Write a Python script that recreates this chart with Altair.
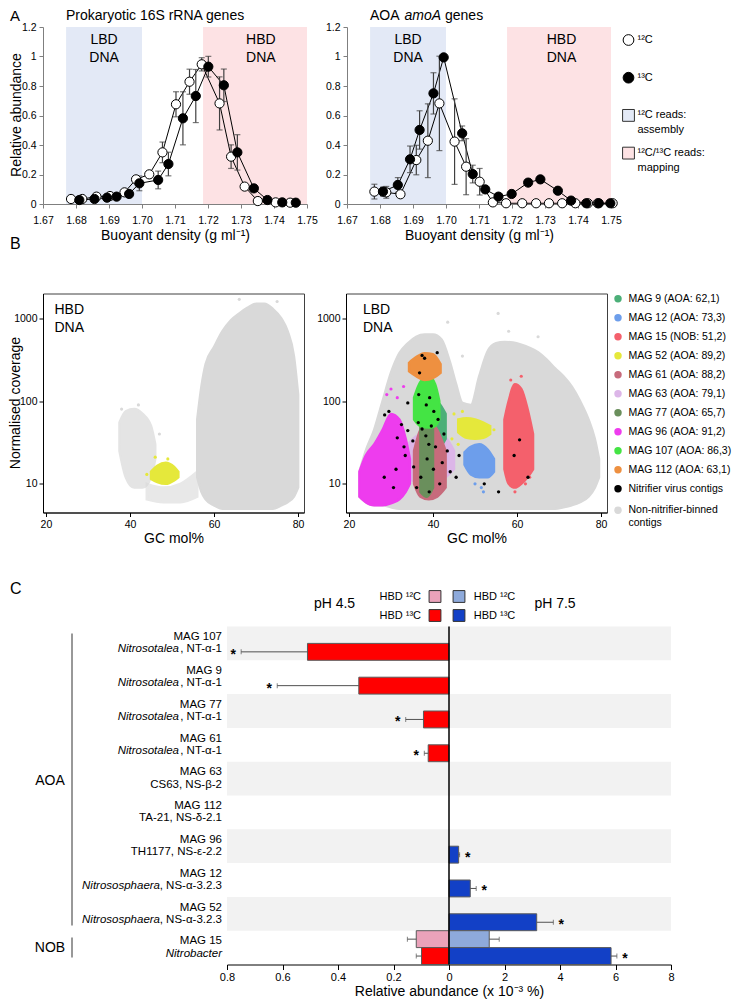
import altair as alt
import pandas as pd

FONT = "Liberation Sans"

# ======================= PANEL A data =======================
a_xticks = [1.67, 1.68, 1.69, 1.70, 1.71, 1.72, 1.73, 1.74, 1.75]
a_yticks = [0, 0.2, 0.4, 0.6, 0.8, 1.0, 1.2]

rrna_x12 = [1.6785, 1.6819, 1.6862, 1.6903, 1.6947, 1.6982, 1.7022, 1.7062, 1.7103, 1.7144, 1.7181, 1.7235, 1.7270, 1.7311, 1.7351, 1.7405, 1.7449]
rrna_y12 = [0.034, 0.034, 0.050, 0.054, 0.079, 0.167, 0.201, 0.350, 0.676, 0.829, 0.947, 0.682, 0.321, 0.118, 0.020, 0.011, 0.009]
rrna_e12 = [0, 0, 0, 0, 0, 0.02, 0, 0.07, 0.085, 0.085, 0.045, 0.18, 0.08, 0, 0, 0, 0]
rrna_x13 = [1.6810, 1.6856, 1.6894, 1.6923, 1.6961, 1.6992, 1.7049, 1.7080, 1.7124, 1.7163, 1.7201, 1.7248, 1.7289, 1.7339, 1.7380, 1.7425, 1.7466]
rrna_y13 = [0.027, 0.034, 0.043, 0.050, 0.068, 0.140, 0.163, 0.271, 0.581, 0.732, 0.931, 0.805, 0.350, 0.106, 0.027, 0.011, 0.009]
rrna_e13 = [0, 0, 0, 0, 0, 0.05, 0.06, 0.08, 0.18, 0.18, 0.07, 0.11, 0.12, 0, 0, 0, 0]

amo_x12 = [1.6783, 1.6819, 1.6862, 1.6910, 1.6945, 1.6980, 1.7026, 1.7061, 1.7102, 1.7142, 1.7182, 1.7231, 1.7273, 1.7312, 1.7352, 1.7392, 1.7430, 1.7460, 1.7505]
amo_y12 = [0.084, 0.079, 0.066, 0.298, 0.429, 0.682, 0.423, 0.253, 0.151, 0.011, 0.005, 0.005, 0.005, 0.005, 0.005, 0.005, 0.005, 0.005, 0.005]
amo_e12 = [0.05, 0.04, 0, 0.10, 0.25, 0.32, 0.29, 0.19, 0.09, 0, 0, 0, 0, 0, 0, 0, 0, 0, 0]
amo_x13 = [1.6809, 1.6854, 1.6891, 1.6920, 1.6962, 1.6993, 1.7049, 1.7081, 1.7119, 1.7159, 1.7199, 1.7249, 1.7286, 1.7339, 1.7379, 1.7425, 1.7463, 1.7498]
amo_y13 = [0.084, 0.129, 0.303, 0.502, 0.750, 0.994, 0.479, 0.203, 0.099, 0.050, 0.068, 0.145, 0.167, 0.090, 0.023, 0.005, 0.005, 0.005]
amo_e13 = [0.03, 0.05, 0.09, 0.13, 0.14, 0, 0.05, 0.06, 0, 0, 0, 0, 0, 0, 0, 0, 0, 0]

lbd_range = [1.677, 1.700]
hbd_range = [1.7185, 1.750]
shade_colors = ["#e3e9f6", "#fde2e4"]

# ======================= PANEL B data =======================
b_xticks = [20, 40, 60, 80]
b_yticks = [10, 100, 1000]
GRAY = "#d9d9d9"

hbd_gray_gc = [56, 57, 58, 60, 62, 64, 66, 68, 70, 72, 74, 76, 77.5, 79, 80]
hbd_gray_lo = [12, 8, 6.5, 5.5, 5, 5, 5, 5, 5, 5, 5, 5.5, 6, 7, 9]
hbd_gray_hi = [60, 150, 280, 450, 700, 950, 1150, 1350, 1500, 1500, 1300, 1000, 700, 350, 120]
hbd_small_gc = [37.5, 39, 41, 43, 45, 46]
hbd_small_lo = [25, 12, 9, 9, 12, 20]
hbd_small_hi = [55, 75, 80, 70, 50, 30]
hbd_low_gc = [44, 48, 52, 56]
hbd_low_lo = [6.5, 6, 6, 7]
hbd_low_hi = [10, 9, 10, 14]
hbd_y52_gc = [45, 46.5, 48.5, 50.5, 51.5]
hbd_y52_lo = [11.5, 10.5, 10, 11, 12]
hbd_y52_hi = [14, 16.5, 18, 16, 14]

lbd_gray_gc = [22.5, 24, 26, 28, 30, 32, 34, 36, 38, 40, 42, 44, 45.5, 47, 49, 51, 53, 55, 57, 59, 61, 63, 65, 67, 69, 71, 73, 75, 77, 78.5, 79.5]
lbd_gray_lo = [7, 6, 5.5, 5.5, 5.2, 5, 5, 5, 5, 5, 5, 5, 5, 5, 5, 5, 5, 5, 5, 5, 5, 5, 5, 5, 5, 5.2, 5.5, 6, 7, 9, 12]
lbd_gray_hi = [14, 25, 45, 100, 220, 380, 500, 600, 640, 640, 560, 300, 160, 95, 90, 200, 400, 500, 520, 510, 480, 440, 390, 320, 250, 200, 150, 100, 60, 35, 20]

mag63_gc = [34, 37, 40, 43, 45]
mag63_lo = [12, 10, 10, 12, 15]
mag63_hi = [30, 40, 42, 36, 25]
mag9_gc = [38, 40.5, 43]
mag9_lo = [30, 25, 35]
mag9_hi = [80, 100, 70]
mag77_gc = [37, 38.5, 40]
mag77_lo = [8, 7, 9]
mag77_hi = [60, 90, 50]
mag61_gc = [35.5, 37, 39, 41, 43]
mag61_lo = [10, 7, 6.5, 7, 9]
mag61_hi = [25, 45, 55, 45, 25]
mag96_gc = [22.5, 24, 26, 28, 30, 32, 33.5, 34.5]
mag96_lo = [7, 6, 5.5, 5.5, 5.8, 6.5, 8, 10]
mag96_hi = [14, 22, 30, 45, 70, 60, 35, 20]
mag107_gc = [35.5, 37, 39, 40.5, 41.5]
mag107_lo = [60, 50, 48, 50, 60]
mag107_hi = [110, 170, 200, 160, 100]
mag112_gc = [34.3, 36, 38, 40, 41.8]
mag112_lo = [230, 200, 180, 190, 220]
mag112_hi = [290, 340, 380, 370, 280]
mag52_gc = [46, 48, 50, 52, 53.6]
mag52_lo = [42, 36, 35, 36, 40]
mag52_hi = [60, 62, 60, 55, 50]
mag12_gc = [47.5, 49, 51, 53, 54.5]
mag12_lo = [17, 13, 12, 12, 14]
mag12_hi = [24, 28, 30, 26, 20]
mag15_gc = [57, 58, 59.5, 61, 62.5, 63.8]
mag15_lo = [15, 10, 9, 10, 12, 15]
mag15_hi = [60, 100, 160, 140, 80, 40]

lbd_stray_gc = [44.5, 45, 46, 47, 54.5, 51.5, 52, 50, 58.5, 61, 63, 62, 59.5, 30, 31.5, 33, 29, 43.5, 55.5, 47, 65, 58]
lbd_stray_cov = [35, 70, 30, 75, 45, 9, 8, 10, 180, 200, 12, 10, 8, 140, 110, 150, 120, 900, 1150, 350, 600, 700]
lbd_stray_col = ["#e5e83b"] * 5 + ["#6d9eeb"] * 3 + ["#f4606c"] * 5 + ["#ee3cee"] * 4 + [GRAY] * 5
hbd_stray_gc = [46, 44, 49, 42, 38, 47, 66, 75]
hbd_stray_cov = [21, 13, 20, 90, 80, 40, 1700, 1600]
hbd_stray_col = ["#e5e83b", "#e5e83b", "#e5e83b", GRAY, GRAY, GRAY, GRAY, GRAY]

virus_gc = [37.4, 38.0, 41.0, 36.8, 29.5, 28.5, 31.5, 32.5, 34, 35.2, 36.5, 37.4, 38.3, 39, 39.6, 40.6, 43.4, 45.5, 34, 38.4, 39.2, 40.2, 41.2, 36.6, 33.4, 35.4, 37.1, 38.6, 40.1, 41.6, 42.2, 31.2, 28.4, 30.6, 36.1, 39.1, 44.1, 46.2, 60.6, 59.3, 62.6, 55.6, 52.2, 33.1, 42.6]
virus_cov = [357, 330, 385, 220, 75, 68, 36, 52, 44, 33, 55, 46, 38, 30, 50, 28, 25, 12, 95, 90, 110, 75, 60, 120, 22, 16, 12, 20, 15, 10, 18, 15, 12, 9, 9, 8, 14, 22, 34, 22, 12, 8, 10, 28, 40]

b_leg_labels = ["MAG 9 (AOA: 62,1)", "MAG 12 (AOA: 73,3)", "MAG 15 (NOB: 51,2)", "MAG 52 (AOA: 89,2)",
                "MAG 61 (AOA: 88,2)", "MAG 63 (AOA: 79,1)", "MAG 77 (AOA: 65,7)", "MAG 96 (AOA: 91,2)",
                "MAG 107 (AOA: 86,3)", "MAG 112 (AOA: 63,1)", "Nitrifier virus contigs", "Non-nitrifier-binned"]
b_leg_colors = ["#4caf78", "#6d9eeb", "#f4606c", "#e5e83b", "#c76b7c", "#dcb6e8", "#6a8f5c", "#ee3cee",
                "#44e444", "#ee9040", "#000000", GRAY]

# ======================= PANEL C data =======================
c_mags = ["MAG 107", "MAG 9", "MAG 77", "MAG 61", "MAG 63", "MAG 112", "MAG 96", "MAG 12", "MAG 52", "MAG 15"]
c_ital = ["Nitrosotalea"] * 4 + ["", "", ""] + ["Nitrososphaera"] * 2 + ["Nitrobacter"]
c_norm = [", NT-α-1"] * 4 + ["CS63, NS-β-2", "TA-21, NS-δ-2.1", "TH1177, NS-ε-2.2", ", NS-α-3.2.3", ", NS-α-3.2.3", ""]
c_band = [1, 0, 1, 0, 1, 0, 1, 0, 1, 0]
c_ph45_12 = [0, 0, 0, 0, 0, 0, 0, 0, 0, 0.118]
c_ph45_12_err = [0, 0, 0, 0, 0, 0, 0, 0, 0, 0.032]
c_ph45_13 = [0.510, 0.325, 0.092, 0.075, 0, 0, 0, 0, 0, 0.099]
c_ph45_13_err = [0.239, 0.294, 0.064, 0.014, 0, 0, 0, 0, 0, 0.019]
c_ph75_12 = [0, 0, 0, 0, 0, 0, 0, 0, 0, 1.45]
c_ph75_12_err = [0, 0, 0, 0, 0, 0, 0, 0, 0, 0.36]
c_ph75_13 = [0, 0, 0, 0, 0, 0, 0.347, 0.766, 3.16, 5.84]
c_ph75_13_err = [0, 0, 0, 0, 0, 0, 0.035, 0.214, 0.60, 0.21]
c_sig45 = [1, 1, 1, 1, 0, 0, 0, 0, 0, 0]
c_sig75 = [0, 0, 0, 0, 0, 0, 1, 1, 1, 1]
c_xticks = [-8, -6, -4, -2, 0, 2, 4, 6, 8]
c_colors = {"L12C": "#eaa2ba", "L13C": "#ff0000", "R12C": "#8eaadb", "R13C": "#1240c6"}


def note(txt, x, y, size, align="left", style="normal", weight="normal", baseline="middle", angle=0):
    return alt.Chart(pd.DataFrame({"t": [txt]})).mark_text(
        align=align, baseline=baseline, fontSize=size, fontStyle=style, fontWeight=weight, color="black",
        angle=angle
    ).encode(x=alt.value(x), y=alt.value(y), text="t:N")


def anchor(x, y):
    # invisible 1px layout anchor (keeps every row's left edge / top edge at a known place)
    return alt.Chart(pd.DataFrame({"a": [0]})).mark_rule(opacity=0, strokeWidth=0.5).encode(
        x=alt.value(x), x2=alt.value(x + 0.5), y=alt.value(y), y2=alt.value(y + 0.5))


# ======================= PANEL A =======================
def panel_a(x12, y12, e12, x13, y13, e13, lbd_c, hbd_c, width, extra):
    pts = pd.DataFrame({"x": x12 + x13, "y": y12 + y13, "e": e12 + e13,
                        "f": ["white"] * len(x12) + ["black"] * len(x13),
                        "series": ["12C"] * len(x12) + ["13C"] * len(x13)})
    pts["lo"] = (pts["y"] - pts["e"]).clip(lower=0)
    pts["hi"] = pts["y"] + pts["e"]
    errs = pts[pts["e"] > 0]
    caps = pd.concat([errs.assign(cy=errs["lo"]), errs.assign(cy=errs["hi"])])
    shade = pd.DataFrame({"x0": [lbd_range[0], hbd_range[0]], "x1": [lbd_range[1], hbd_range[1]],
                          "y0": [0, 0], "y1": [1.2, 1.2], "c": shade_colors})
    stext = pd.DataFrame({"xc": [lbd_c, lbd_c, hbd_c, hbd_c], "yc": [1.112, 0.99, 1.112, 0.99],
                          "t": ["LBD", "DNA", "HBD", "DNA"]})
    xsc = alt.Scale(domain=[1.67, 1.75], nice=False, zero=False)
    ysc = alt.Scale(domain=[0, 1.2], nice=False)
    xax = alt.Axis(values=a_xticks, format=".2f", title="Buoyant density (g ml⁻¹)", labelFontSize=10.5,
                   titleFontSize=14, tickSize=4, domainColor="#7f7f7f", tickColor="#7f7f7f",
                   labelPadding=7, titlePadding=3, labelFlush=False)
    yax = alt.Axis(values=a_yticks, format=".1~f", title=None, labelFontSize=10.5,
                   tickSize=4, domainColor="#7f7f7f", tickColor="#7f7f7f", labelPadding=3)
    X = alt.X("x:Q", scale=xsc, axis=xax)
    layers = [
        alt.Chart(shade).mark_rect().encode(
            x=alt.X("x0:Q", scale=xsc, axis=xax), x2="x1:Q",
            y=alt.Y("y1:Q", scale=ysc, axis=yax), y2="y0:Q",
            color=alt.Color("c:N", scale=None)),
        alt.Chart(stext).mark_text(fontSize=14, baseline="middle").encode(
            x=alt.X("xc:Q", scale=xsc, axis=xax), y=alt.Y("yc:Q", scale=ysc, axis=yax), text="t:N"),
        alt.Chart(pts).mark_line(color="black", strokeWidth=1).encode(
            x=X, y=alt.Y("y:Q", scale=ysc, axis=yax), detail="series:N"),
        alt.Chart(errs).mark_rule(color="#404040", strokeWidth=1.2).encode(
            x=X, y=alt.Y("lo:Q", scale=ysc, axis=yax), y2="hi:Q"),
        alt.Chart(caps).mark_tick(orient="horizontal", size=6, thickness=1.2, color="#404040").encode(
            x=X, y=alt.Y("cy:Q", scale=ysc, axis=yax)),
        alt.Chart(pts).mark_circle(size=85, stroke="black", strokeWidth=1, opacity=1).encode(
            x=X, y=alt.Y("y:Q", scale=ysc, axis=yax), fill=alt.Fill("f:N", scale=None)),
    ] + extra
    return alt.layer(*layers).properties(width=width, height=177)


a_left = panel_a(rrna_x12, rrna_y12, rrna_e12, rrna_x13, rrna_y13, rrna_e13, 1.6885, 1.736, 264,
                 [anchor(-33.3, -19),
                  note("Prokaryotic 16S rRNA genes", 23, -11.5, 14), note("A", -33, -11.5, 15),
                  note("Relative abundance", -26.3, 88, 14, align="center", angle=270),
                  note("B", -33, 217, 16)])
a_right = panel_a(amo_x12, amo_y12, amo_e12, amo_x13, amo_y13, amo_e13, 1.6885, 1.735, 264,
                  [note("AOA", 23, -11.5, 14), note("amoA", 57.5, -11.5, 14, style="italic"),
                   note("genes", 98, -11.5, 14)])

legA_g = pd.DataFrame({"i": [0, 1], "f": ["white", "black"]})
legA_s = pd.DataFrame({"i": [2, 3], "f": shade_colors})
legA_t = pd.DataFrame({"i": [0, 1, 2, 2.39, 3, 3.39],
                       "t": ["¹²C", "¹³C", "¹²C reads:", "assembly", "¹²C/¹³C reads:", "mapping"]})
lya = alt.Scale(domain=[-0.345, 4.35], reverse=True)
a_leg = alt.layer(
    alt.Chart(legA_g).mark_circle(size=115, stroke="black", strokeWidth=1, opacity=1).encode(
        x=alt.value(-22.5), y=alt.Y("i:Q", scale=lya, axis=None), fill=alt.Fill("f:N", scale=None)),
    alt.Chart(legA_s).mark_square(size=140, stroke="#333333", strokeWidth=1, opacity=1).encode(
        x=alt.value(-22.5), y=alt.Y("i:Q", scale=lya, axis=None), fill=alt.Fill("f:N", scale=None)),
    alt.Chart(legA_t).mark_text(align="left", baseline="middle", fontSize=11).encode(
        x=alt.value(-13.5), y=alt.Y("i:Q", scale=lya, axis=None), text="t:N"),
).properties(width=70, height=177)

rowA = alt.hconcat(a_left, a_right, a_leg, spacing=40, bounds="flush")


# ======================= PANEL B =======================
def panel_b(blobs, s_gc, s_cov, s_col, v_gc, v_cov, extra):
    xsc = alt.Scale(domain=[19.3, 81.4], nice=False, zero=False)
    ysc = alt.Scale(type="log", domain=[4.5, 2000], nice=False)
    xax = alt.Axis(values=b_xticks, title="GC mol%", labelFontSize=10.5, titleFontSize=14, tickSize=4,
                   labelFlush=False, labelPadding=3, titlePadding=1)
    yax = alt.Axis(values=b_yticks, format="d", title=None, labelFontSize=10.5, tickSize=4, labelPadding=2)
    layers = []
    for color, op, gc, lo, hi in blobs:
        df = pd.DataFrame({"gc": gc, "lo": lo, "hi": hi})
        layers.append(alt.Chart(df).mark_area(color=color, stroke=color, strokeWidth=2.5, opacity=op,
                                              interpolate="monotone").encode(
            x=alt.X("gc:Q", scale=xsc, axis=xax), y=alt.Y("lo:Q", scale=ysc, axis=yax, stack=None), y2="hi:Q"))
    sdf = pd.DataFrame({"gc": s_gc, "lo": s_cov, "c": s_col})
    layers.append(alt.Chart(sdf).mark_circle(size=10, opacity=1).encode(
        x=alt.X("gc:Q", scale=xsc, axis=xax), y=alt.Y("lo:Q", scale=ysc, axis=yax),
        color=alt.Color("c:N", scale=None)))
    if v_gc:
        vdf = pd.DataFrame({"gc": v_gc, "lo": v_cov})
        layers.append(alt.Chart(vdf).mark_circle(size=11, color="black", opacity=1).encode(
            x=alt.X("gc:Q", scale=xsc, axis=xax), y=alt.Y("lo:Q", scale=ysc, axis=yax)))
    layers += extra
    return alt.layer(*layers).properties(width=261, height=219,
                                         view=alt.ViewBackground(stroke="#404040", strokeWidth=1))


hbd_blobs = [
    (GRAY, 0.6, hbd_low_gc, hbd_low_lo, hbd_low_hi),
    (GRAY, 0.7, hbd_small_gc, hbd_small_lo, hbd_small_hi),
    (GRAY, 1.0, hbd_gray_gc, hbd_gray_lo, hbd_gray_hi),
    ("#e5e83b", 1.0, hbd_y52_gc, hbd_y52_lo, hbd_y52_hi),
]
lbd_blobs = [
    (GRAY, 1.0, lbd_gray_gc, lbd_gray_lo, lbd_gray_hi),
    ("#dcb6e8", 1.0, mag63_gc, mag63_lo, mag63_hi),
    ("#4caf78", 1.0, mag9_gc, mag9_lo, mag9_hi),
    ("#c76b7c", 1.0, mag61_gc, mag61_lo, mag61_hi),
    ("#6a8f5c", 1.0, mag77_gc, mag77_lo, mag77_hi),
    ("#ee3cee", 1.0, mag96_gc, mag96_lo, mag96_hi),
    ("#44e444", 1.0, mag107_gc, mag107_lo, mag107_hi),
    ("#ee9040", 1.0, mag112_gc, mag112_lo, mag112_hi),
    ("#e5e83b", 1.0, mag52_gc, mag52_lo, mag52_hi),
    ("#6d9eeb", 1.0, mag12_gc, mag12_lo, mag12_hi),
    ("#f4606c", 1.0, mag15_gc, mag15_lo, mag15_hi),
]

b_left = panel_b(hbd_blobs, hbd_stray_gc, hbd_stray_cov, hbd_stray_col, [], [],
                 [anchor(-34.5, 20),
                  note("HBD", 11.5, 16, 14), note("DNA", 11.5, 34, 14),
                  note("Normalised coverage", -27.5, 109.5, 14, align="center", angle=270)])
b_right = panel_b(lbd_blobs, lbd_stray_gc, lbd_stray_cov, lbd_stray_col, virus_gc, virus_cov,
                  [note("LBD", 17, 16, 14), note("DNA", 17, 34, 14)])

legB_d = pd.DataFrame({"i": [float(k) for k in range(12)], "t": b_leg_labels, "c": b_leg_colors})
legB_d.loc[11, "i"] = 11.13
legB_t = pd.concat([legB_d[["i", "t"]], pd.DataFrame({"i": [11.79], "t": ["contigs"]})])
lyb = alt.Scale(domain=[-0.279, 11.247], reverse=True)
b_leg = alt.layer(
    alt.Chart(legB_d).mark_circle(size=55, opacity=1).encode(
        x=alt.value(-31), y=alt.Y("i:Q", scale=lyb, axis=None), color=alt.Color("c:N", scale=None)),
    alt.Chart(legB_t).mark_text(align="left", baseline="middle", fontSize=10.5).encode(
        x=alt.value(-20.5), y=alt.Y("i:Q", scale=lyb, axis=None), text="t:N"),
).properties(width=40, height=219)

rowB = alt.hconcat(b_left, b_right, b_leg, spacing=42, bounds="flush")

# ======================= PANEL C =======================
recs = []
for i, m in enumerate(c_mags):
    for side, carbon, vals, errs, sig, sign, scl in [
        ("L", "12C", c_ph45_12, c_ph45_12_err, None, -1, 10),
        ("L", "13C", c_ph45_13, c_ph45_13_err, c_sig45, -1, 10),
        ("R", "12C", c_ph75_12, c_ph75_12_err, None, 1, 1),
        ("R", "13C", c_ph75_13, c_ph75_13_err, c_sig75, 1, 1),
    ]:
        v = vals[i]
        if v > 0:
            recs.append({"mag": m, "carbon": carbon, "col": c_colors[side + carbon], "side": side,
                         "s": sign * scl * v, "end": sign * scl * (v + errs[i]), "e": errs[i],
                         "z": 0, "star": (sig[i] if sig else 0)})
cdf = pd.DataFrame(recs)
edf = cdf[cdf["e"] > 0]
band_df = pd.DataFrame({"mag": [m for m, b in zip(c_mags, c_band) if b]})
lab_df = pd.DataFrame({"mag": c_mags, "ital": c_ital, "norm": c_norm})

cx = alt.Scale(domain=[-8, 8], nice=False, zero=False)
cy = alt.Scale(domain=c_mags, paddingInner=0, paddingOuter=0)
cyo = alt.Scale(domain=["12C", "13C"], paddingInner=0, paddingOuter=0)
cxax = alt.Axis(values=c_xticks,
                labelExpr="datum.value < 0 ? format(-datum.value/10, '.1f') : format(datum.value, 'd')",
                title="Relative abundance (x 10⁻³ %)", titleFontSize=14, labelFontSize=11, tickSize=5,
                labelFlush=False, labelPadding=2, titlePadding=2, domainColor="black", tickColor="black")
CX = alt.X("s:Q", scale=cx, axis=cxax)
CY = alt.Y("mag:N", scale=cy, axis=None)
CYO = alt.YOffset("carbon:N", scale=cyo)
W_C, H_C = 444, 338

c_layers = [
    anchor(-217, 20),
    alt.Chart(band_df).mark_rect(color="#f2f2f2").encode(y=CY, x=alt.value(0), x2=alt.value(W_C)),
    alt.Chart(cdf).mark_bar(stroke="#5a5a5a", strokeWidth=1).encode(
        x=CX, x2="z:Q", y=CY, yOffset=CYO, color=alt.Color("col:N", scale=None)),
    alt.Chart(edf).mark_rule(color="#505050", strokeWidth=1).encode(x=CX, x2="end:Q", y=CY, yOffset=CYO),
    alt.Chart(edf).mark_tick(color="#505050", thickness=1, size=5).encode(
        x=alt.X("end:Q", scale=cx, axis=cxax), y=CY, yOffset=CYO),
    alt.Chart(cdf[(cdf["star"] == 1) & (cdf["side"] == "L")]).mark_text(
        text="*", fontSize=14, fontWeight="bold", dx=-8, dy=3).encode(
        x=alt.X("end:Q", scale=cx, axis=cxax), y=CY, yOffset=CYO),
    alt.Chart(cdf[(cdf["star"] == 1) & (cdf["side"] == "R")]).mark_text(
        text="*", fontSize=14, fontWeight="bold", dx=8, dy=3).encode(
        x=alt.X("end:Q", scale=cx, axis=cxax), y=CY, yOffset=CYO),
    alt.Chart(pd.DataFrame({"s": [0]})).mark_rule(color="black", strokeWidth=1.5).encode(x=CX),
    alt.Chart(lab_df).mark_text(align="right", baseline="middle", fontSize=11.5, dy=-6.3).encode(
        x=alt.value(-5), y=CY, text="mag:N"),
    alt.Chart(lab_df).mark_text(align="right", baseline="middle", fontSize=11.5, dy=6).encode(
        x=alt.value(-5), y=CY, text="norm:N"),
    alt.Chart(lab_df[lab_df["norm"] == ", NT-α-1"]).mark_text(
        align="right", baseline="middle", fontSize=11.5, dy=6, fontStyle="italic").encode(
        x=alt.value(-48), y=CY, text="ital:N"),
    alt.Chart(lab_df[lab_df["norm"] == ", NS-α-3.2.3"]).mark_text(
        align="right", baseline="middle", fontSize=11.5, dy=6, fontStyle="italic").encode(
        x=alt.value(-67), y=CY, text="ital:N"),
    alt.Chart(lab_df[lab_df["norm"] == ""]).mark_text(
        align="right", baseline="middle", fontSize=11.5, dy=6, fontStyle="italic").encode(
        x=alt.value(-5), y=CY, text="ital:N"),
    alt.Chart(pd.DataFrame({"a": [0]})).mark_rule(color="#333333", strokeWidth=1).encode(
        x=alt.value(-155), y=alt.value(7), y2=alt.value(299)),
    alt.Chart(pd.DataFrame({"a": [0]})).mark_rule(color="#333333", strokeWidth=1).encode(
        x=alt.value(-155), y=alt.value(311), y2=alt.value(331)),
    note("AOA", -177, 154, 14, align="center"),
    note("NOB", -177, 321, 14, align="center"),
    note("C", -217, -38, 16),
    note("pH 4.5", 107.5, -23, 14, align="center"),
    note("pH 7.5", 328, -23, 14, align="center"),
    note("HBD ¹²C", 194, -30, 11, align="right"),
    note("HBD ¹³C", 194, -11, 11, align="right"),
    note("HBD ¹²C", 246.7, -30, 11),
    note("HBD ¹³C", 246.7, -11, 11),
]
legC = pd.DataFrame({"t": ["a"]})
for xv, yv, key in [(208, -30, "L12C"), (208, -11, "L13C"), (232, -30, "R12C"), (232, -11, "R13C")]:
    c_layers.append(alt.Chart(legC).mark_square(size=140, color=c_colors[key], stroke="#333333", strokeWidth=1,
                                                opacity=1).encode(x=alt.value(xv), y=alt.value(yv)))
c_chart = alt.layer(*c_layers).properties(width=W_C, height=H_C)

spacer = alt.Chart(pd.DataFrame({"a": [0]})).mark_point(opacity=0, size=1).encode(
    x=alt.value(0), y=alt.value(0)).properties(width=174, height=20)
rowC = alt.hconcat(spacer, c_chart, spacing=10, bounds="flush")

chart = alt.vconcat(
    rowA,
    alt.vconcat(rowB, rowC, spacing=35),
    spacing=40.5, padding=0,
).configure_view(stroke=None).configure_axis(
    grid=False, labelFont=FONT, titleFont=FONT, labelColor="black", titleColor="black",
    titleFontWeight="normal", domainColor="black", tickColor="black"
).configure_text(font=FONT)

chart.save("out.html", embed_options={"renderer": "svg", "actions": False})
